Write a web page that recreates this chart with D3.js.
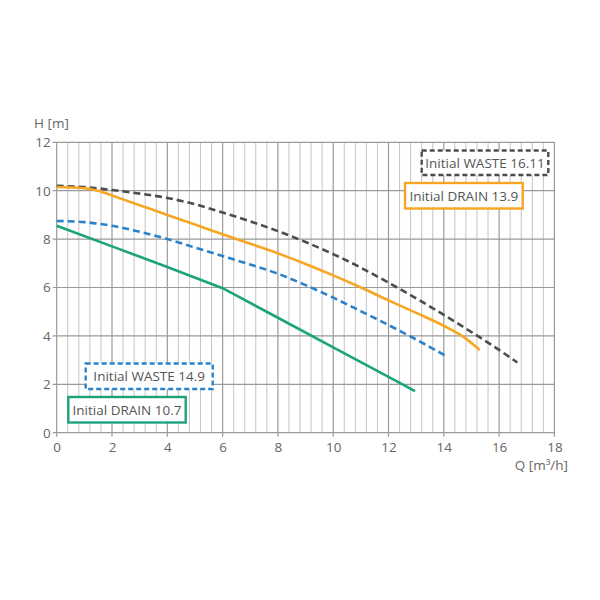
<!DOCTYPE html>
<html>
<head>
<meta charset="utf-8">
<script src="https://cdn.jsdelivr.net/npm/d3@7"></script>
<style>
  body { margin: 0; background: #fff; }
  text { font-family: 'Open Sans', sans-serif; }
</style>
</head>
<body>
<svg class="chart"></svg>
<script>
// ----- Data -----
let qWaste1611 = [0, 1, 2, 3, 4, 5, 6, 7, 8, 9, 10, 11, 12, 13, 14, 15, 16, 16.66]
let hWaste1611 = [10.2, 10.15, 10.03, 9.88, 9.7, 9.44, 9.1, 8.73, 8.33, 7.88, 7.38, 6.82, 6.2, 5.55, 4.87, 4.16, 3.42, 2.9]

let qDrain139 = [0, 1, 1.5, 2, 3, 4, 5, 6, 7, 8, 9, 10, 11, 12, 13, 14, 14.7, 15.3]
let hDrain139 = [10.15, 10.1, 10.0, 9.8, 9.4, 9.0, 8.6, 8.2, 7.81, 7.41, 6.97, 6.5, 6.0, 5.47, 4.95, 4.42, 3.97, 3.42]

let qWaste149 = [0, 1, 2, 3, 4, 5, 6, 7, 8, 9, 10, 11, 12, 13, 14.16]
let hWaste149 = [8.75, 8.7, 8.55, 8.3, 8.0, 7.65, 7.3, 6.95, 6.57, 6.1, 5.58, 5.02, 4.45, 3.85, 3.12]

let qDrain107 = [0, 2, 4, 6, 8, 10, 12, 12.96]
let hDrain107 = [8.55, 7.7, 6.85, 5.97, 4.75, 3.53, 2.31, 1.72]

let xTicks = [0, 2, 4, 6, 8, 10, 12, 14, 16, 18]
let yTicks = [0, 2, 4, 6, 8, 10, 12]
let legendNames = ['Initial WASTE 16.11', 'Initial DRAIN 13.9', 'Initial WASTE 14.9', 'Initial DRAIN 10.7']

// ----- SVG -----
let svgWidth = 600
let svgHeight = 600
let svg = d3.select('.chart')
            .attr('width', svgWidth)
            .attr('height', svgHeight)

let plotLeft = 56.7, plotRight = 554.4, plotTop = 142.3, plotBottom = 432.7
let fontSize = '13.5px'
let textColor = '#666'

let x = d3.scaleLinear().domain([0, 18]).range([plotLeft, plotRight])
let y = d3.scaleLinear().domain([0, 12]).range([plotBottom, plotTop])

// minor vertical grid, every 0.4
let minorX = d3.range(0, 18.001, 0.4).filter(function (d) {
    return Math.abs(d / 2 - Math.round(d / 2)) > 0.01
})
svg.append('g').selectAll('line')
   .data(minorX)
   .enter()
   .append('line')
   .attr('x1', function (d) { return x(d) })
   .attr('x2', function (d) { return x(d) })
   .attr('y1', plotTop)
   .attr('y2', plotBottom)
   .attr('stroke', '#c4c4c4')
   .attr('stroke-width', 1)

// major grid
svg.append('g').selectAll('line')
   .data(xTicks)
   .enter()
   .append('line')
   .attr('x1', function (d) { return x(d) })
   .attr('x2', function (d) { return x(d) })
   .attr('y1', plotTop)
   .attr('y2', plotBottom + 4)
   .attr('stroke', '#9a9a9a')
   .attr('stroke-width', 1.2)

svg.append('g').selectAll('line')
   .data(yTicks)
   .enter()
   .append('line')
   .attr('x1', plotLeft - 4)
   .attr('x2', plotRight)
   .attr('y1', function (d) { return y(d) })
   .attr('y2', function (d) { return y(d) })
   .attr('stroke', '#9a9a9a')
   .attr('stroke-width', 1.2)

// tick labels
let xAxis = svg.append('g')
   .attr('transform', 'translate(0,' + (plotBottom + 6) + ')')
   .call(d3.axisBottom(x).tickValues(xTicks).tickSize(0).tickPadding(2))
let yAxis = svg.append('g')
   .attr('transform', 'translate(' + (plotLeft - 4) + ',0)')
   .call(d3.axisLeft(y).tickValues(yTicks).tickSize(0).tickPadding(2))

svg.selectAll('.domain').remove()
svg.selectAll('.tick text')
   .attr('font-family', "'Open Sans', sans-serif")
   .attr('font-size', fontSize)
   .attr('fill', textColor)
xAxis.selectAll('.tick text').attr('dy', '0.85em')

svg.append('text')
   .attr('x', 34)
   .attr('y', 128)
   .text('H [m]')
   .attr('font-size', fontSize)
   .attr('fill', textColor)

svg.append('text')
   .attr('x', 568)
   .attr('y', 470)
   .attr('text-anchor', 'end')
   .text('Q [m³/h]')
   .attr('font-size', fontSize)
   .attr('fill', textColor)

// ----- Curves -----
let series = [
    {q: qWaste1611, h: hWaste1611, color: '#4d4d4d', dash: '7,4', curve: d3.curveMonotoneX},
    {q: qDrain139, h: hDrain139, color: '#f6a623', dash: null, curve: d3.curveMonotoneX},
    {q: qWaste149, h: hWaste149, color: '#2a82cc', dash: '7,4', curve: d3.curveMonotoneX},
    {q: qDrain107, h: hDrain107, color: '#1ba37c', dash: null, curve: d3.curveLinear}
]

series.forEach(function (s) {
    let pts = s.q.map(function (q, i) { return [q, s.h[i]] })
    let line = d3.line()
                 .x(function (d) { return x(d[0]) })
                 .y(function (d) { return y(d[1]) })
                 .curve(s.curve)
    svg.append('path')
       .attr('d', line(pts))
       .attr('fill', 'none')
       .attr('stroke', s.color)
       .attr('stroke-width', 2.6)
       .attr('stroke-dasharray', s.dash)
})

// ----- Legend boxes -----
let boxes = [
    {x: 421.7, y: 150.5, w: 126.6, h: 24.5},
    {x: 405, y: 183, w: 117.7, h: 25.5},
    {x: 85.7, y: 363.5, w: 127, h: 25.5},
    {x: 68.3, y: 397, w: 117.4, h: 25.5}
]

boxes.forEach(function (b, i) {
    let s = series[i]
    svg.append('rect')
       .attr('x', b.x)
       .attr('y', b.y)
       .attr('width', b.w)
       .attr('height', b.h)
       .attr('fill', '#fff')
       .attr('stroke', s.color)
       .attr('stroke-width', 2.4)
       .attr('stroke-dasharray', s.dash ? '5,3' : null)
    svg.append('text')
       .attr('x', b.x + b.w / 2)
       .attr('y', b.y + b.h / 2 + 4.8)
       .attr('text-anchor', 'middle')
       .text(legendNames[i])
       .attr('font-size', fontSize)
       .attr('fill', '#555')
})
</script>
</body>
</html>
